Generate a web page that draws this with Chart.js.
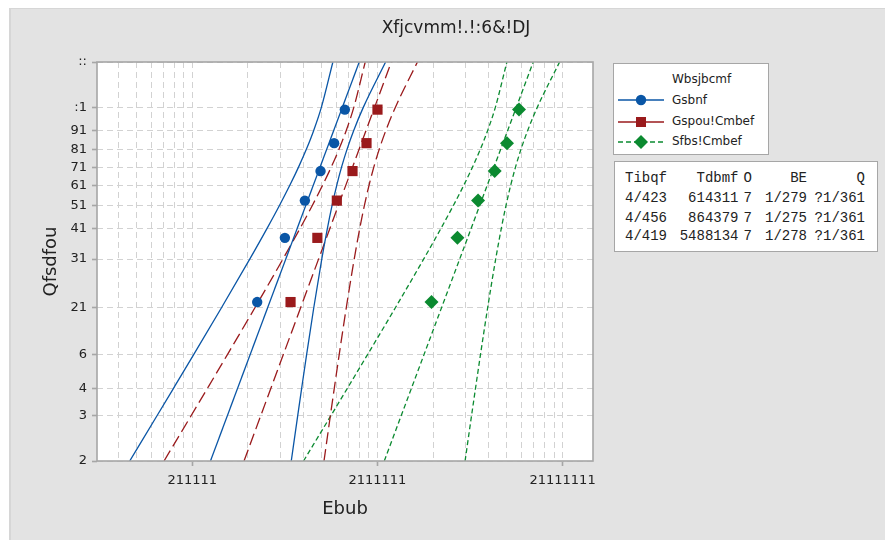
<!DOCTYPE html>
<html>
<head>
<meta charset="utf-8">
<script src="https://cdn.jsdelivr.net/npm/chart.js@4.4.1/dist/chart.umd.min.js"></script>
<style>
  html, body { margin: 0; padding: 0; background: #fff; }
  #wrap { position: relative; width: 885px; height: 540px; overflow: hidden;
          font-family: "DejaVu Sans", sans-serif; color: #222; }
  #panel { position: absolute; left: 9px; top: 8px; right: 0; bottom: 0; background: #e3e3e3;
           border-left: 2px solid #d6d6d6; border-top: 1px solid #d6d6d6; }
  #chart { position: absolute; left: 0; top: 0; }
  #title { position: absolute; left: 306px; width: 300px; top: 17px; text-align: center;
           font-size: 17px; line-height: 20px; white-space: pre; }
  .box { position: absolute; background: #fff; border: 1px solid #a6a6a6; box-sizing: border-box; }
  .txt { position: absolute; white-space: pre; }
  #legend .txt { font-size: 12px; line-height: 15px; }
  #stats .txt { font-family: "Liberation Mono", "DejaVu Sans Mono", monospace; font-size: 14px;
                line-height: 16px; text-align: right; }
</style>
</head>
<body>
<div id="wrap">
  <div id="panel"></div>
  <canvas id="chart" width="885" height="540"></canvas>
  <div id="title"></div>
  <div class="box" id="legend" style="left:613px;top:63px;width:156px;height:92px;"></div>
  <div class="box" id="stats" style="left:614px;top:161px;width:264px;height:91px;"></div>
</div>
<script>
// ---- text ----
const chartTitle = 'Xfjcvmm!.!:6&!DJ';
const xTitle = 'Ebub';
const yTitle = 'Qfsdfou';
const legendTitle = 'Wbsjbcmf';
const seriesNames = ['Gsbnf', 'Gspou!Cmbef', 'Sfbs!Cmbef'];

// ---- axis ticks ----
const yTickValues = [1, 2, 3, 5, 10, 20, 30, 40, 50, 60, 70, 80, 90, 99];
const yTickLabels = ['2', '3', '4', '6', '21', '31', '41', '51', '61', '71', '81', '91', ':1', '::'];
const xMajorValues = [100000, 1000000, 10000000];
const xMajorLabels = ['211111', '2111111', '21111111'];

// ---- observations (percent = median rank) ----
const pointPct  = [10.9, 26.6, 42.2, 57.8, 73.4, 89.1];
const frameData = [224300, 316500, 405800, 493100, 583900, 667100];
const frontData = [339600, 474000, 603800, 733800, 873400, 1001000];
const rearData  = [1959000, 2706000, 3496000, 4301000, 5012000, 5818000];

// ---- fitted lines (1% and 99% percentiles) ----
const fitPct   = [1, 99];
const frameFit = [125470, 798010];
const frontFit = [190410, 1189090];
const rearFit  = [1089530, 6945180];

// ---- 95% confidence bounds on the percentiles ----
const ciPct      = [1, 2, 3, 5, 10, 20, 30, 40, 50, 60, 70, 80, 90, 99];
const frameLower = [45950, 64640, 78940, 101630, 143600, 204440, 253180, 296350, 336500, 375100, 413350, 453000, 498630, 574880];
const frameUpper = [342610, 371280, 389550, 414480, 453040, 500690, 536660, 569580, 603110, 640370, 685270, 745060, 840300, 1107700];
const frontLower = [70430, 98750, 120360, 154570, 217650, 308770, 381570, 445940, 505730, 563130, 619970, 678870, 746480, 859450];
const frontUpper = [514740, 557360, 584500, 621600, 678850, 749470, 802780, 851520, 901170, 956240, 1022610, 1110960, 1251460, 1645200];
const rearLower  = [399000, 561480, 685780, 883080, 1248100, 1777300, 2201500, 2577100, 2926600, 3262800, 3595800, 3941100, 4338500, 5003400];
const rearUpper  = [2975200, 3225000, 3384200, 3601500, 3937600, 4352800, 4666400, 4953200, 5245400, 5570000, 5961100, 6482000, 7311500, 9640700];

// ---- summary table ----
const statHeader = ['Tibqf', 'Tdbmf', 'O', 'BE', 'Q'];
const statRows = [
  ['4/423', '614311', '7', '1/279', '?1/361'],
  ['4/456', '864379', '7', '1/275', '?1/361'],
  ['4/419', '5488134', '7', '1/278', '?1/361']
];

// ---- styles ----
const seriesStyle = [
  { color: '#0a56a6', dash: [],      marker: 'circle',  radius: 5.2 },
  { color: '#9a1a1c', dash: [12, 5], marker: 'rect',    radius: 7.2 },
  { color: '#0b8a30', dash: [5, 3],  marker: 'rectRot', radius: 7 }
];

// Weibull probability scale: position proportional to ln(-ln(1 - p))
const wb = p => Math.log(-Math.log(1 - p / 100));
class WeibullScale extends Chart.Scale {
  static id = 'weibull';
  static defaults = {};
  determineDataLimits() {
    this.min = this.options.min;
    this.max = this.options.max;
  }
  buildTicks() {
    return yTickValues.map(v => ({ value: v }));
  }
  getLabelForValue(v) { return String(v); }
  configure() {
    super.configure();
    this._wStart = wb(this.min);
    this._wRange = wb(this.max) - this._wStart;
  }
  getPixelForValue(v) {
    return this.getPixelForDecimal((wb(v) - this._wStart) / this._wRange);
  }
  getValueForPixel(px) {
    const w = this._wStart + this.getDecimalForPixel(px) * this._wRange;
    return 100 * (1 - Math.exp(-Math.exp(w)));
  }
}
Chart.register(WeibullScale);

const toPts = (xs, ps) => xs.map((x, i) => ({ x: x, y: ps[i] }));

const datasets = [];
const groups = [
  [frameData, frameFit, frameLower, frameUpper],
  [frontData, frontFit, frontLower, frontUpper],
  [rearData, rearFit, rearLower, rearUpper]
];
groups.forEach((g, k) => {
  const st = seriesStyle[k];
  datasets.push({
    label: seriesNames[k], data: toPts(g[0], pointPct), showLine: false, order: 0,
    pointStyle: st.marker, pointRadius: st.radius, pointBackgroundColor: st.color, pointBorderWidth: 0
  });
  const lineBase = { borderColor: st.color, borderWidth: 1.3, borderDash: st.dash, pointRadius: 0, fill: false, order: 1 };
  datasets.push(Object.assign({ data: toPts(g[1], fitPct) }, lineBase));
  datasets.push(Object.assign({ data: toPts(g[2], ciPct), cubicInterpolationMode: 'monotone' }, lineBase));
  datasets.push(Object.assign({ data: toPts(g[3], ciPct), cubicInterpolationMode: 'monotone' }, lineBase));
});

// minor x grid positions: 2..9 times each decade inside the axis range
const xMin = 30600, xMax = 14600000;
const xTickValues = [];
[10000, 100000, 1000000, 10000000].forEach(d => {
  for (let m = 1; m <= 9; m++) {
    const v = m * d;
    if (v >= xMin && v <= xMax) xTickValues.push(v);
  }
});

const gridColor = '#d2d2d2';
const axisColor = '#a6a6a6';

const plotFrame = {
  id: 'plotFrame',
  beforeDraw(chart) {
    const { ctx, chartArea: a } = chart;
    ctx.save();
    ctx.fillStyle = '#ffffff';
    ctx.fillRect(a.left, a.top, a.right - a.left, a.bottom - a.top);
    ctx.restore();
  },
  afterDraw(chart) {
    const { ctx, chartArea: a } = chart;
    ctx.save();
    ctx.strokeStyle = axisColor;
    ctx.lineWidth = 1.6;
    ctx.strokeRect(a.left, a.top, a.right - a.left, a.bottom - a.top);
    ctx.restore();
  }
};

Chart.defaults.font.family = '"DejaVu Sans", sans-serif';
Chart.defaults.color = '#222';

new Chart(document.getElementById('chart'), {
  type: 'line',
  data: { datasets: datasets },
  plugins: [plotFrame],
  options: {
    responsive: false,
    devicePixelRatio: 1,
    animation: false,
    events: [],
    layout: { padding: { left: 10, right: 292, top: 62, bottom: 0 } },
    plugins: { legend: { display: false }, tooltip: { enabled: false }, title: { display: false } },
    scales: {
      x: {
        type: 'logarithmic', position: 'bottom', min: xMin, max: xMax,
        afterBuildTicks: s => { s.ticks = xTickValues.map(v => ({ value: v, major: xMajorValues.includes(v) })); },
        afterFit: s => { s.height = 79; },
        ticks: {
          autoSkip: false, maxRotation: 0, minRotation: 0, padding: 7, color: '#222',
          font: { size: 13 },
          callback: (v, i, t) => {
            const k = xMajorValues.indexOf(t[i].value);
            return k >= 0 ? xMajorLabels[k] : '';
          }
        },
        grid: {
          color: gridColor, lineWidth: 1, tickLength: 5, tickWidth: 1.6, tickBorderDash: [],
          tickColor: c => (c.tick && c.tick.major) ? axisColor : 'rgba(0,0,0,0)'
        },
        border: { display: false, dash: [6, 4] },
        title: { display: true, text: xTitle, font: { size: 18 }, color: '#222', padding: { top: 0, bottom: 20 } }
      },
      y: {
        type: 'weibull', position: 'left', min: 1, max: 99,
        afterFit: s => { s.width = 87; },
        ticks: {
          padding: 5, color: '#222', font: { size: 13 },
          callback: (v, i) => yTickLabels[i]
        },
        grid: { color: gridColor, lineWidth: 1, tickLength: 5, tickWidth: 1.6, tickColor: axisColor, tickBorderDash: [] },
        border: { display: false, dash: [6, 4] },
        title: { display: true, text: yTitle, font: { size: 18 }, color: '#222', padding: { top: 31, bottom: 0 } }
      }
    }
  }
});

// ---- title ----
document.getElementById('title').textContent = chartTitle;

// ---- legend ----
const legend = document.getElementById('legend');
function addText(parent, text, left, top) {
  const d = document.createElement('div');
  d.className = 'txt';
  d.style.left = left + 'px';
  d.style.top = top + 'px';
  d.textContent = text;
  parent.appendChild(d);
  return d;
}
addText(legend, legendTitle, 58, 8);
const entryCenters = [36, 57.7, 77.7];
seriesNames.forEach((name, k) => {
  const st = seriesStyle[k];
  const cy = entryCenters[k];
  const svgNS = 'http://www.w3.org/2000/svg';
  const svg = document.createElementNS(svgNS, 'svg');
  svg.setAttribute('width', '50');
  svg.setAttribute('height', '16');
  svg.style.position = 'absolute';
  svg.style.left = '3px';
  svg.style.top = (cy - 8) + 'px';
  const ln = document.createElementNS(svgNS, 'line');
  ln.setAttribute('x1', '1'); ln.setAttribute('x2', '47');
  ln.setAttribute('y1', '8'); ln.setAttribute('y2', '8');
  ln.setAttribute('stroke', st.color);
  ln.setAttribute('stroke-width', '1.3');
  if (k === 2) ln.setAttribute('stroke-dasharray', '5 3');
  svg.appendChild(ln);
  let mk;
  if (st.marker === 'circle') {
    mk = document.createElementNS(svgNS, 'circle');
    mk.setAttribute('cx', '24'); mk.setAttribute('cy', '8'); mk.setAttribute('r', '5.2');
  } else if (st.marker === 'rect') {
    mk = document.createElementNS(svgNS, 'rect');
    mk.setAttribute('x', '19'); mk.setAttribute('y', '3'); mk.setAttribute('width', '10'); mk.setAttribute('height', '10');
  } else {
    mk = document.createElementNS(svgNS, 'polygon');
    mk.setAttribute('points', '24,1 31,8 24,15 17,8');
  }
  mk.setAttribute('fill', st.color);
  svg.appendChild(mk);
  legend.appendChild(svg);
  addText(legend, name, 58, cy - 7.5);
});

// ---- statistics table ----
const stats = document.getElementById('stats');
const colRight = [210, 138.5, 125, 70, 12];
const rowTops = [8.3, 28.3, 47.6, 66];
function addRow(cells, top) {
  cells.forEach((c, j) => {
    const d = document.createElement('div');
    d.className = 'txt';
    d.style.right = colRight[j] + 'px';
    d.style.top = top + 'px';
    d.textContent = c;
    stats.appendChild(d);
  });
}
addRow(statHeader, rowTops[0]);
statRows.forEach((r, i) => addRow(r, rowTops[i + 1]));
</script>
</body>
</html>
